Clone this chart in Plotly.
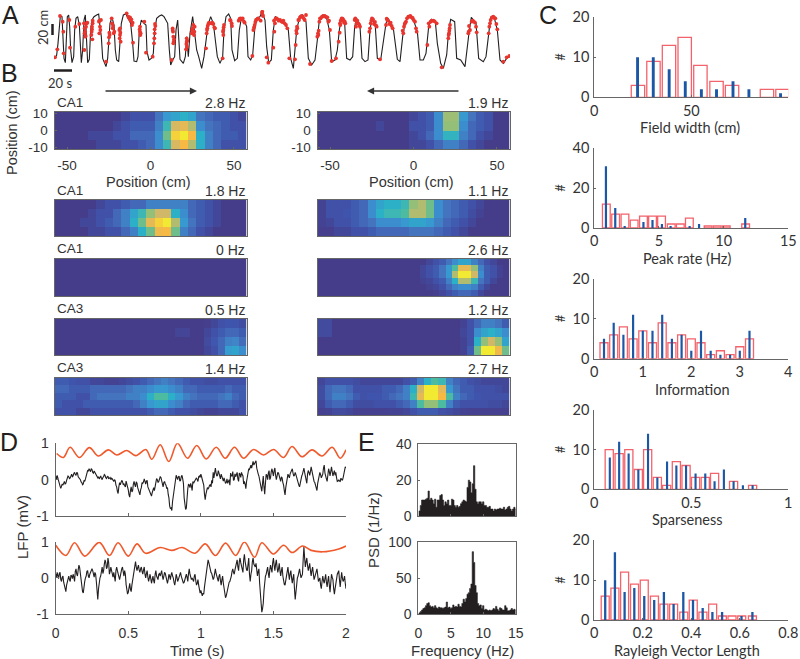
import plotly.graph_objects as go

W, H = 800, 659
BLACK = "#231f20"; GREY = "#666666"; TXT = "#333333"
RED = "#f2636b"; BLUE = "#1c57a5"; ORANGE = "#f0592b"; DOT = "#e8352e"
SANS = "Liberation Sans"; SOFT = "Lato"

# ---------- A: track position (trace samples, arbitrary position units)
track_t = [165,170,174,178,181,186,189,192,196,199,202,206,209,212,216,221,224,228,233,238,241,244,248,252,256,260,263,268,272,276,282,290,296,300,304,308,313,318,323,326,330,336,342,346,350,356,360,364,370,378,384,392,398,402,410,414,418,424,432,438,441,447,454,460,464,470,478,485,492,498,503,508,512,518,524,528,533,540,550,556,560,565,570,578,584,590,596,605,612,618,624,632,640,646,652,660,668,672,678,686,692,696,704,712,718,724,732,740,744,752,758,764,770,780,786,795,800,806,814,820,826,840,855,865,872,880,886,890,898,908,918,925,935,945,952,958,968,980,988,995,1005,1012,1018,1024,1034,1040,1050,1058,1064,1070,1080,1086,1095,1104,1110,1116,1126,1132,1142,1150,1158,1164,1180,1192,1200,1208,1216,1228,1242,1252,1260,1270,1278,1286,1294,1306,1312,1322,1330,1340,1346,1352,1364,1370,1382,1395,1402,1408,1414,1428,1436,1450,1458,1466,1472,1482,1492,1500,1510,1520,1528]
track_zy = [175,165,130,70,48,50,110,175,188,120,50,45,80,150,188,170,90,55,50,75,150,188,150,60,45,120,188,178,90,60,50,45,42,80,110,175,190,200,175,110,70,52,75,150,180,185,140,70,45,42,55,70,130,183,185,170,90,60,70,75,155,180,175,160,90,55,48,45,50,60,70,150,195,180,170,90,60,178,190,170,110,170,100,50,110,150,170,205,170,120,75,50,70,120,170,190,170,90,50,42,55,150,182,175,90,55,60,80,170,180,165,90,55,50,35,60,140,188,180,90,50,60,70,90,175,205,140,90,55,45,65,175,195,180,120,60,45,55,90,185,180,150,90,55,70,175,180,170,80,55,80,175,185,180,90,55,80,175,180,130,70,55,85,178,185,110,65,47,65,95,180,180,160,80,58,65,130,190,205,165,90,58,65,175,180,200,130,90,52,70,175,185,170,100,52,50,90,180,190,175,170]
run_t = [165,172,180,188,190,191,208,210,226,238,252,254,254,256,253,260,275,277,276,278,297,298,300,298,318,326,327,328,335,336,338,341,358,360,362,360,380,385,388,392,396,399,420,420,421,433,438,458,462,463,464,466,515,518,519,520,521,520,560,560,561,575,578,578,580,582,618,620,622,625,634,640,645,668,670,670,672,690,695,718,722,728,732,757,760,764,768,775,782,787,788,820,823,825,830,840,850,858,862,800,805,868,885,887,890,892,895,902,908,914,918,930,952,954,958,962,970,980,985,990,995,1008,1016,1020,1025,1032,1036,1066,1068,1075,1080,1108,1112,1116,1122,1130,1140,1158,1162,1168,1178,1210,1212,1218,1225,1235,1245,1250,1282,1288,1292,1300,1310,1345,1347,1350,1405,1410,1415,1425,1430,1466,1470,1476,1486,1492,1325,1510,1520,1528,
         255,258,262,257,274,276,278,301,303,329,339,343,359,361,390,394,398,419,422,464,465,518,522,558,562,559,576,583,584,621,623,627,637,643,669,671,692,696,716,719,726,734,762,766,771,773,786,789,822,827,833,836,844,847,854,889,891,897,900,905,911,956,955,960,966,974,977,982,987,1019,1021,1022,1028,1030,1034,1064,1070,1072,1078,1110,1114,1119,1125,1128,1160,1164,1172,1175,1208,1214,1216,1221,1228,1231,1238,1241,1248,1286,1295,1304,1346,1348,1349,1406,1407,1418,1421,1428,1468,1472,1480,1483,1489]
run_zy = [172,148,48,65,95,160,60,143,80,72,70,85,100,110,150,70,95,118,80,70,65,100,80,62,185,130,112,98,55,70,85,100,90,105,125,85,40,50,55,62,75,128,80,95,105,65,158,170,130,115,100,78,180,85,95,110,125,130,115,125,140,100,85,100,75,105,145,100,85,72,70,72,85,175,105,90,75,60,70,60,55,55,65,168,90,75,60,55,62,35,45,143,95,70,55,60,62,75,85,172,188,175,178,135,100,85,60,50,50,60,45,192,110,100,65,55,48,52,65,90,183,175,125,70,55,68,70,55,80,70,80,95,70,55,72,80,178,75,60,72,85,100,80,65,50,52,65,95,135,80,65,62,70,115,100,75,100,90,65,68,97,100,70,52,55,88,202,185,172,168,
         95,80,68,108,105,88,62,90,60,105,78,95,115,98,52,58,68,88,100,88,72,90,118,148,122,132,90,95,80,90,78,68,68,82,95,82,62,78,62,56,58,68,82,66,58,56,38,48,62,55,58,62,64,66,70,92,80,60,52,48,55,92,105,55,50,48,50,52,62,98,75,62,56,60,64,60,70,62,75,85,62,58,66,76,56,62,68,78,92,72,68,55,50,48,54,60,85,70,62,64,105,92,85,95,78,62,64,80,80,60,50,54,72]

# ---------- B: rate maps, rows listed from top to bottom (scaled 0-10)
map_a1 = [[0,0,0,0,0,0,0,0,.5,1,1,1,2.5,4,4.5,5,4.5,2.5,2,1.5,1.5,1,.5],
          [0,0,0,0,0,0,0,.5,1,1.5,1.5,1.5,3,5.5,8.2,8.5,7.5,3.5,2.5,2,1.5,1,1],
          [0,0,0,0,.5,.5,.5,1,1,2,2,2,3.5,6.5,9.5,10,9,5,3,2,1.5,1.5,1],
          [0,0,0,0,0,.5,.5,.5,1,1,1.5,2,3.5,5.5,8.2,9,7.5,5,3,2,1,1,1]]
map_b1 = [[0,0,0,0,0,0,0,0,0,0,0,.5,1,1.5,3.5,7.2,7.2,4,2.5,1.5,1,0,0],
          [0,0,0,0,0,0,0,.5,0,0,0,1,1,1.5,3.5,7,7,3.5,2,1.5,1,0,0],
          [0,0,0,0,0,0,0,0,0,0,0,.5,1,2,3.5,5.2,5.2,3,2,1,.5,0,0],
          [0,0,0,0,0,0,0,0,0,0,0,.5,.5,1,2,3,3,2,1,.5,0,0,0]]
map_a2 = [[0,0,0,0,0,.5,1,1,1.5,2,2,3,3,3,3,3,2,1.5,1,.5,0,0,0],
          [0,0,0,0,.5,1,1,2,3,4.5,5.5,7,8,8,5,3.5,2,1.5,1,.5,0,0,0],
          [0,0,0,.5,.5,1,1.5,2,3,5,6.5,8.5,9.5,10,7.5,4,2.5,1.5,1,.5,0,0,0],
          [0,0,0,0,.5,.5,1,1,2,3,5,6.5,8.8,9,6.5,3,2,1,.5,0,0,0,0]]
map_b2 = [[.3,1,1,1,1.5,2,3.5,4.5,5,5,5.5,7,7.5,6.5,3.5,2.5,2,1.5,1,.5,0,0,0],
          [.3,1,1,1.2,1.5,2,3.5,5,5.5,5.5,6,7.5,7.5,6.5,3.5,2.5,2,1.5,.8,.3,0,0,0],
          [.3,.5,1,1,1.5,2,2.5,3.5,3.5,3.5,4,4.5,4.5,4,3,2,1.5,1,.5,0,0,0,0],
          [.1,.1,.5,.5,1,1,1.5,2,2,2,2,2.5,2.5,2.5,2,1.5,1,.5,0,0,0,0,0]]
map_a3 = [[0]*23, [0]*23, [0]*23, [0]*23]
map_b3 = [[0,0,0,0,0,0,0,0,0,0,0,0,0,0,0,0,0,.5,1,1.5,2.5,3.5,4.5,4.5,3,2,1,.5,0,0],
          [0,0,0,0,0,0,0,0,0,0,0,0,0,0,0,0,.5,1,1.5,2.5,4,6,8.5,8.5,7,3,1.5,1,.3,0],
          [0,0,0,0,0,0,0,0,0,0,0,0,0,0,0,0,.5,1,1.5,2.5,4,7.5,10,10,8,3.5,1.5,1,.3,0],
          [0,0,0,0,0,0,0,0,0,0,0,0,0,0,0,0,.3,.5,1,1.5,3,5,7.5,7.5,5.5,2.5,1.5,.5,0,0],
          [0,0,0,0,0,0,0,0,0,0,0,0,0,0,0,0,0,.3,.5,1,2,3,3.5,3.5,3,1.5,.5,0,0,0],
          [0,0,0,0,0,0,0,0,0,0,0,0,0,0,0,0,0,0,.1,.5,1,1.5,2,2,1.5,.5,0,0,0,0]]
map_a4 = [[0,0,0,0,0,0,0,0,0,0,0,0,0,0,0,0,0,0,0,0,0,.1,.5,1,1.2,1.2,.8],
          [0,0,0,0,0,0,0,0,0,0,0,0,0,0,0,0,0,.4,.4,0,0,.5,1,1.5,2,2,1.5],
          [0,0,0,0,0,0,0,0,0,0,0,0,0,0,0,0,0,0,0,0,0,.7,1.3,2,3,3.2,2.2],
          [0,0,0,0,0,0,0,0,0,0,0,0,0,0,0,0,0,0,0,0,0,.5,1,2,4.2,4.5,3.5]]
map_b4 = [[.7,.7,0,0,0,0,0,0,0,0,0,0,0,0,0,0,0,0,0,0,.3,1,2,3,3,2.5,1.5],
          [.7,.7,0,0,0,0,0,0,0,0,0,0,0,0,0,0,0,0,0,0,.5,1,3.5,4.5,5,4.5,3.5],
          [0,0,0,0,0,0,0,0,0,0,0,0,0,0,0,0,0,0,0,0,.3,1,5,7,8,7,4.5],
          [0,0,0,0,0,0,0,0,0,0,0,0,0,0,0,0,0,0,0,0,.3,1.5,6.5,10,10,8.8,6.5]]
map_a5 = [[1.5,1.5,1.2,1,1,.5,.5,.3,.3,.5,.8,1,1.5,2,2.5,3,2.5,2,1.5,1,1,.8,.8,1,1,1,1],
          [2,2,1.5,1.5,1.5,2,2,2,2,2,2.5,3,3,3.5,4,4,3.5,3,2,2,1.5,1.5,1.5,1.5,2,1.5,1.5],
          [1.5,1.5,1.5,1,1,2,2.5,2.5,2.5,2.5,3,3,3.5,5,6,6,5,4,3,2.5,2,2,2,2.5,3,2,1.5],
          [1.5,1,1,1,1.5,1.5,1.5,1.5,1.5,1.5,1.5,2,3,4,4.5,4.5,3.5,3,2,1.5,1.5,1.5,1.5,2,2,1.5,1],
          [1,1,1,.5,.5,1,1,1,1,1,1,1,1,1.5,2,2,1.5,1,1,.8,.5,.3,.3,.5,.5,.5,1]]
map_b5 = [[.5,1,1,1,1,.8,.5,.5,.5,.5,.5,.5,1,1.5,3,5,6,5.5,3,2,1.5,1,.8,.5,.5,.5,.5],
          [.8,2,2.5,2.5,2,1,1,1,1,1.5,1.5,2,3,5,8,10,10,8.5,4,2.5,1.5,1.5,1,1,1,.8,.5],
          [.8,2,3,3,2.5,1.5,1,1.2,1.2,1.5,2,2.5,3,5.5,8.5,10,10,9,6,3,2,1.5,1.2,1,1,1,1],
          [.5,1.5,2,2,1.5,.8,.8,.8,1,1,1,1.5,2,3,6,7,7,6,3,1.5,1,1,1,1,.8,.8,.5],
          [.2,.3,.7,.7,.5,.2,.2,.2,.2,.2,.3,.3,.5,1,1.5,1.5,1.5,1,.8,.5,.3,.2,.2,.2,.2,.2,.2]]
left_maps = [map_a1, map_a2, map_a3, map_a4, map_a5]
right_maps = [map_b1, map_b2, map_b3, map_b4, map_b5]
left_rates = ["2.8 Hz", "1.8 Hz", "0 Hz", "0.5 Hz", "1.4 Hz"]
right_rates = ["1.9 Hz", "1.1 Hz", "2.6 Hz", "1.2 Hz", "2.7 Hz"]
left_regions = ["CA1", "CA1", "CA1", "CA3", "CA3"]
parula = [[0,"#463d8a"],[.12,"#3f55ad"],[.25,"#4474bd"],[.38,"#3a94d2"],[.5,"#2cb0c8"],[.6,"#4dbb9f"],
          [.7,"#93bf78"],[.8,"#d0b868"],[.9,"#f7b944"],[1,"#f2e933"]]

# ---------- C: histograms (bin centre, count)
width_red_x = [22.5,30.5,38.5,46.6,54.7,63,71,89,97]
width_red_n = [3,9,13,15,8,4,3,2,2]
width_blue_x = [22.3,30.4,38.6,46.9,55.2,63,71.5,79.7,96]
width_blue_n = [10,10,7,4,2,2,4,2,1]
rate_red_x = [.93,1.65,2.37,3.08,3.8,4.5,5.2,5.95,6.65,7.35,8.8,9.5,10.2,11.7]
rate_red_n = [12,7,7,4,6,6,6,2,2,5,1,1,1,2]
rate_blue_x = [.9,1.62,2.35,3.8,4.5,5.23,5.9,7.37,8.1,11.67]
rate_blue_n = [31,10,1,3,4,2,1,1,2,5]
info_x = [.2,.4,.6,.8,1,1.2,1.4,1.6,1.8,2,2.2,2.4,2.6,2.8,3,3.2]
info_red_n = [4,6,8,5,7,4,9,4,6,5,4,1,2,1,3,5]
info_blue_n = [5,9,6,11,7,7,11,5,6,2,7,2,1,1,2,7]
sparse_red_x = [.077,.128,.178,.227,.275,.325,.373,.423,.473,.522,.572,.62,.718,.816]
sparse_red_n = [10,9,10,5,10,3,1,7,6,3,3,4,2,1]
sparse_blue_x = [.08,.128,.177,.227,.277,.325,.375,.423,.473,.522,.572,.62,.668,.718,.766,.816]
sparse_blue_n = [8,12,9,5,14,3,7,6,6,4,4,2,5,2,1,1]
ray_red_x = [.045,.085,.125,.166,.206,.248,.287,.327,.369,.408,.448,.488,.528,.568,.608,.652]
ray_red_n = [6,8,12,9,10,6,4,4,2,5,2,4,1,1,1,1]
ray_blue_x = [.045,.085,.125,.165,.206,.247,.287,.327,.367,.407,.447,.487,.527,.607,.652]
ray_blue_n = [10,17,7,8,6,5,7,4,7,5,3,2,2,1,2]

# ---------- D: LFP
theta1_t = [.007,.053,.099,.163,.232,.294,.363,.421,.49,.552,.621,.662,.72,.779,.839,.908,.972,1.037,1.106,1.168,1.232,1.294,1.363,1.432,1.501,1.57,1.628,1.697,1.766,1.834,1.905,1.96,2.0]
theta1_v = [.72,.61,.89,.61,.88,.65,.82,.68,.8,.66,.83,.56,.96,.5,1.0,.59,.94,.57,.89,.59,.89,.59,.83,.68,.83,.61,.91,.63,.82,.65,.89,.59,.82]
theta2_t = [.0,.07,.13,.2,.3,.37,.43,.5,.56,.62,.72,.8,.87,.96,1.03,1.1,1.17,1.24,1.3,1.37,1.42,1.5,1.57,1.63,1.7,1.76,1.84,1.95,2.0]
theta2_v = [.9,.62,.97,.6,.98,.62,.97,.6,.94,.68,.84,.76,.84,.68,.94,.62,.96,.62,.99,.57,.97,.66,.9,.7,.88,.76,.72,.8,.88]
lfp1 = [.1,.12,-.05,-.18,-.2,-.15,-.05,-.1,.02,.08,.05,.15,.1,.2,.12,.18,.05,.0,-.08,-.12,-.05,.1,.25,.3,.22,.28,.18,.2,.12,.05,
        .02,.1,.0,.08,.12,.03,.1,.04,.0,.02,-.05,-.03,-.2,-.38,-.08,-.1,-.05,-.12,-.2,-.1,-.28,-.48,-.2,-.3,-.05,-.2,-.1,-.28,-.42,-.22,
        -.1,.02,-.12,-.02,-.25,-.38,-.45,-.3,-.3,-.1,.0,-.05,.08,-.02,-.2,-.05,-.15,-.22,-.5,-.8,-.85,-.45,-.2,.12,.0,.1,-.02,.12,-.1,-.72,
        -.78,-.25,-.15,-.1,-.3,-.1,-.02,.05,-.05,.1,.15,.02,-.15,-.55,-.3,-.25,-.15,-.2,-.1,.05,.32,.1,.25,.05,.15,.0,.05,-.1,.02,-.05,
        -.15,.1,.22,.0,.08,.2,-.05,.15,.2,.1,-.05,-.25,.05,.3,.38,.32,.5,.45,.52,.2,.1,-.05,-.32,.1,-.4,.15,.0,.25,.05,.3,
        .1,.32,.0,.2,.1,-.05,.05,-.15,-.42,-.1,.15,.05,.22,.3,.1,.2,.05,-.1,-.2,.05,.15,.32,.05,-.1,.25,.12,.35,.1,-.05,-.15,
        -.3,.05,.2,.05,.15,.4,.05,-.05,.3,.1,.35,.1,.25,.2,-.05,.0,-.05,.0,.05,.3,.32]
lfp1_between = [.0,.02,-.12,-.24,-.12,-.08,-.12,-.02,.1,.03,.12,.08,.17,.14,.2,.08,.04,-.06,-.14,-.02,
        .02,.2,.24,.26,.3,.2,.24,.14,.1,.08,.06,.04,.06,.14,.05,.08,.02,.06,.04,-.02,
        .0,-.15,-.32,-.2,-.14,-.02,-.14,-.16,-.04,-.2,-.42,-.3,-.34,-.12,-.14,-.06,-.22,-.4,-.28,-.08,
        -.06,-.05,-.04,-.2,-.34,-.4,-.36,-.22,-.16,.03,-.08,.04,.06,-.14,-.08,-.12,-.25,-.4,-.72,-.78,
        -.6,-.25,.05,.06,.08,-.04,.08,.02,-.5,-.82,-.35,-.12,-.22,-.18,-.05,-.06,.02,.0,.08,.06,
        .08,-.08,-.4,-.4,-.22,-.22,-.14,-.02,.2,.25,.18,.12,.18,.02,.08,-.04,-.02,-.08,-.1,.0,
        .18,.1,-.02,.16,.14,.02,.18,.06,.14,-.12,-.12,-.05,.22,.28,.4,.42,.4,.5,.32,.16,
        .0,-.2,-.1,-.2,-.1,.12,.18,.0,.22,.2,.25,.12,.1,.18,.0,.08,-.08,-.3,-.22,.08,
        .1,.16,.3,.18,.12,.14,-.05,-.15,-.08,.1,.25,.2,-.04,.15,.2,.22,.25,-.02,-.08,-.25,
        -.1,.12,.14,.1,.32,.18,.02,.18,.22,.22,.22,.18,.12,.05,-.04,-.04,.04,-.02,.2,.35]
lfp2 = [.1,.15,-.02,.15,-.1,.05,-.2,-.38,-.1,.05,-.1,.05,.1,-.1,.25,.05,.35,.1,-.25,-.42,-.1,.05,.2,.0,.15,.25,.05,.15,-.1,-.6,
        -.1,.05,.3,.2,.5,.25,.55,.1,.3,.05,.15,-.1,.3,.1,-.05,.2,.3,.05,.1,-.35,-.4,-.15,-.38,-.05,.1,.45,.2,.35,.15,.3,
        .1,.3,.0,.2,-.1,.1,-.15,.05,-.15,.2,.0,.1,.05,.2,-.05,.15,.05,-.15,.1,-.05,.15,.0,-.2,.1,-.1,.05,.15,.0,-.15,-.05,
        .1,-.1,.25,.05,.0,-.1,.1,-.2,-.05,-.3,-.35,-.5,-.45,-.1,.1,.5,.3,.15,.05,.0,.25,.05,-.1,.1,-.2,.05,-.3,-.55,-.4,-.2,
        -.1,.05,.25,.1,.3,.5,.2,.55,.35,.15,.65,.3,.2,.55,-.1,.2,.55,.3,.4,.05,.25,-.4,-.95,-.7,-.1,.1,.3,.0,.35,.15,
        .55,.2,.5,.15,.4,.05,.3,-.1,-.2,.1,.3,-.05,.2,-.15,.1,-.6,-.1,.05,.25,.0,.1,.85,.3,.55,.2,.4,.05,.3,-.05,.1,
        .25,-.1,.0,-.3,.05,-.15,.1,-.25,.05,-.4,.1,-.05,-.45,-.1,.1,.2,-.25,.15,-.1,.05,-.3]
lfp2_between = [.0,.05,.12,-.05,.02,-.12,-.32,-.2,-.02,-.05,.08,-.02,.02,.18,.1,.22,.28,-.1,-.38,-.2,
        .0,.18,.05,.1,.18,.2,.02,.1,-.45,-.3,.0,.25,.12,.38,.42,.3,.42,.18,.2,.02,
        .05,.2,.2,.02,.05,.25,.12,.2,-.18,-.45,-.2,-.32,-.2,.08,.3,.3,.28,.22,.25,.18,
        .22,.1,.12,.02,.0,-.02,-.05,-.08,.1,.05,-.05,.12,.15,.05,.05,.12,-.08,-.05,.05,.08,
        .05,-.12,-.08,.02,-.05,.12,.05,-.08,-.12,.05,.02,.12,.1,-.05,-.08,.05,-.08,-.15,-.2,-.42,
        -.45,-.42,-.25,.05,.35,.42,.2,.12,-.05,.15,.12,-.05,.05,-.08,-.05,-.15,-.48,-.5,-.28,-.12,
        -.05,.18,.15,.22,.42,.3,.45,.42,.25,.5,.45,.22,.45,.1,.1,.45,.38,.3,.2,.18,
        -.15,-.75,-.85,-.35,.05,.22,.12,.22,.25,.42,.35,.38,.3,.25,.2,.2,.05,-.18,-.05,.2,
        .1,.12,.0,.0,-.3,-.4,.0,.15,.12,.05,.5,.55,.45,.35,.3,.2,.2,.12,.02,.18,
        .08,-.05,-.2,-.1,-.08,-.02,-.12,-.08,-.2,-.15,.02,-.3,-.3,.0,.15,-.05,-.05,.0,-.05,-.15]

def weave(coarse, between):
    out = []
    for i, v in enumerate(coarse):
        out.append(v)
        if i < len(between):
            out.append(between[i])
    return out

lfp1_all = weave(lfp1, lfp1_between)
lfp2_all = weave(lfp2, lfp2_between)
lfp_t = [i * 0.005 for i in range(len(lfp1_all))]

# ---------- E: power spectra
psd_f = [i * 0.2 for i in range(76)]
psd1 = [0,3,6,9,9,9,9.5,10,14,9,10,9,7,9.5,5,9,9,11.5,12,9,6,8,7,9,6,6,9.5,9,6,5,6,5,5.5,7,8,9,8.5,8,16,20,19,13,18,28,15,8,7,8,8,7,8,6,6,5,5,5.5,4,4,3,4,3.5,4,4,4.5,4,4,5,3.5,4,5,5.5,4,3,4,5,4]
psd2 = [0,2,4,6,8,9,12,15,16,12,10,11,9,12,9,8,10,9,9,8,9,10,17,9,10,8,9,13,10,11,10,14,11,10,15,21,17,22,28,30,36,42,87,72,40,30,15,12,13,8,12,6,7,6,5,6,5,6,8,7,11,7,5,9,8,6,6,12,9,5,5,6,8,6,7,6]

fig = go.Figure()
layout = {}
n_ax = [0]

def px(x): return x / W
def py(y): return 1 - y / H

def axes(x0, x1, y0, y1, xopt, yopt):
    n_ax[0] += 1
    k = n_ax[0]
    sx = "" if k == 1 else str(k)
    base = dict(showgrid=False, zeroline=False, fixedrange=True, automargin=False)
    xa = dict(base, domain=[px(x0), px(x1)], anchor="y" + sx, **xopt)
    ya = dict(base, domain=[py(y1), py(y0)], anchor="x" + sx, **yopt)
    layout["xaxis" + sx] = xa
    layout["yaxis" + sx] = ya
    return "x" + sx, "y" + sx

def label(text, x, y, size=14, angle=0, anchor="center", family=SANS, color=TXT):
    return dict(text=text, x=px(x), y=py(y), xref="paper", yref="paper", showarrow=False,
                font=dict(family=family, size=size, color=color), textangle=angle,
                xanchor=anchor, yanchor="middle")

ann = []
shapes = []

# --- panel A
xa, ya = axes(54, 510, 10, 70, dict(visible=False, range=[162, 1530]), dict(visible=False, range=[-5, 175]))
fig.add_trace(go.Scatter(x=track_t, y=[205 - v for v in track_zy], mode="lines", xaxis=xa, yaxis=ya,
                         line=dict(color=BLACK, width=1.1)))
fig.add_trace(go.Scatter(x=run_t, y=[205 - v for v in run_zy], mode="markers", xaxis=xa, yaxis=ya,
                         marker=dict(color=DOT, size=3.8)))

# --- panel B
rows = [(112, 149), (200, 236), (258.5, 296), (319, 355), (377.5, 415)]
columns = [(54.5, 246.5, left_maps, left_rates), (317.5, 509.5, right_maps, right_rates)]
frame = dict(showline=True, linecolor=GREY, linewidth=1, mirror=True)
for cidx, (x0, x1, maps, rates) in enumerate(columns):
    for ridx, (y0, y1) in enumerate(rows):
        if ridx == 0:
            xo = dict(frame, range=[-57.5, 57.5], tickvals=[-50, 0, 50], ticktext=["-50", "0", "50"],
                      ticks="inside", ticklen=2, tickcolor=GREY, ticklabelstandoff=4,
                      tickfont=dict(family=SANS, size=13.5, color=TXT))
            yo = dict(frame, range=[-11, 11], tickvals=[-10, 0, 10], ticktext=["-10", "0", "10"],
                      ticks="inside", ticklen=2, tickcolor=GREY, ticklabelstandoff=3,
                      tickfont=dict(family=SANS, size=13.5, color=TXT))
        else:
            xo = dict(frame, range=[-57.5, 57.5], showticklabels=False, ticks="")
            yo = dict(frame, range=[-11, 11], showticklabels=False, ticks="")
        xa, ya = axes(x0, x1, y0, y1, xo, yo)
        z = maps[ridx]
        nr, nc = len(z), len(z[0])
        cw, rh = 115 / nc, 22 / nr
        fig.add_trace(go.Heatmap(z=z, x=[-57.5 + cw * (i + .5) for i in range(nc)],
                                 y=[11 - rh * (i + .5) for i in range(nr)],
                                 xaxis=xa, yaxis=ya, colorscale=parula, zmin=0, zmax=10,
                                 showscale=False, hoverinfo="skip"))
        ann.append(label(rates[ridx], x1, y0 - 9, 14, anchor="right"))
        if cidx == 0:
            ann.append(label(left_regions[ridx], 55, y0 - 10, 13.5, anchor="left"))
    ann.append(label("Position (cm)", (x0 + x1) / 2 - 2, 182, 14.5))
ann.append(label("Position (cm)", 12, 133, 14.5, angle=-90))

# --- panel C
c_panels = [
    (17.3, 97.3, [0, 100], [0, 50, 100], [0, 20], [0, 10, 20], width_red_x, width_red_n, width_blue_x, width_blue_n, 6.9, 1.5, "Field width (cm)", 690, 127.5),
    (148.3, 228, [0, 15], [0, 5, 10, 15], [0, 40], [0, 20, 40], rate_red_x, rate_red_n, rate_blue_x, rate_blue_n, .6, .17, "Peak rate (Hz)", 687, 258),
    (279, 358.7, [0, 4], [0, 1, 2, 3, 4], [0, 20], [0, 10, 20], info_x, info_red_n, info_x, info_blue_n, .165, .045, "Information", 692, 389),
    (410, 489.3, [0, 1], [0, .5, 1], [0, 20], [0, 10, 20], sparse_red_x, sparse_red_n, sparse_blue_x, sparse_blue_n, .042, .011, "Sparseness", 687, 519.5),
    (540.3, 620, [0, .8], [0, .2, .4, .6, .8], [0, 20], [0, 10, 20], ray_red_x, ray_red_n, ray_blue_x, ray_blue_n, .033, .0095, "Rayleigh Vector Length", 687, 650),
]
for y0, y1, xr, xt, yr, yt, rx, rn, bx, bn, rw, bw, title, tx, ty in c_panels:
    tf = dict(family=SOFT, size=14.5, color=TXT)
    xa, ya = axes(594.3, 788.3, y0, y1,
                  dict(range=xr, tickvals=xt, ticktext=[str(v) for v in xt], showline=True, linecolor=GREY, linewidth=1,
                       ticks="inside", ticklen=2, tickcolor=GREY, ticklabelstandoff=0, tickfont=tf),
                  dict(range=yr, tickvals=yt, ticktext=[str(v) for v in yt], showline=True, linecolor=GREY, linewidth=1,
                       ticks="inside", ticklen=2, tickcolor=GREY, ticklabelstandoff=1, tickfont=tf))
    fig.add_trace(go.Bar(x=rx, y=rn, width=rw, xaxis=xa, yaxis=ya,
                         marker=dict(color="rgba(255,255,255,0)", line=dict(color=RED, width=1.3))))
    fig.add_trace(go.Bar(x=bx, y=bn, width=bw, xaxis=xa, yaxis=ya, marker=dict(color=BLUE, line=dict(width=0))))
    ann.append(label(title, tx, ty, 14.5, family=SOFT))
    ann.append(label("#", 560, (y0 + y1) / 2 - 0.5, 13, angle=-90, family=SOFT))

# --- panel D
d_panels = [(443.3, 516, theta1_t, theta1_v, lfp1_all, False), (541.7, 614, theta2_t, theta2_v, lfp2_all, True)]
for y0, y1, tt, tv, lv, show in d_panels:
    tf = dict(family=SANS, size=14, color=TXT)
    xa, ya = axes(55.7, 346, y0, y1,
                  dict(range=[0, 2], tickvals=[0, .5, 1, 1.5, 2], ticktext=["0", "0.5", "1", "1.5", "2"],
                       showticklabels=show, showline=True, linecolor=GREY, linewidth=1,
                       ticks="inside", ticklen=3, tickcolor=GREY, ticklabelstandoff=6, tickfont=tf),
                  dict(range=[-1, 1], tickvals=[-1, 0, 1], ticktext=["-1", "0", "1"], showline=True, linecolor=GREY, linewidth=1,
                       ticks="inside", ticklen=3, tickcolor=GREY, ticklabelstandoff=3, tickfont=tf))
    fig.add_trace(go.Scatter(x=lfp_t, y=lv, mode="lines", xaxis=xa, yaxis=ya, line=dict(color=BLACK, width=1.1)))
    fig.add_trace(go.Scatter(x=tt, y=tv, mode="lines", xaxis=xa, yaxis=ya, line=dict(color=ORANGE, width=1.6, shape="spline")))
ann.append(label("LFP (mV)", 22, 527, 15, angle=-90))
ann.append(label("Time (s)", 197, 650, 15))

# --- panel E
e_panels = [(444, 516.3, psd1, [0, 40], [0, 20, 40], False), (542.3, 614.3, psd2, [0, 100], [0, 50, 100], True)]
for y0, y1, pv, yr, yt, show in e_panels:
    tf = dict(family=SANS, size=14, color=TXT)
    xa, ya = axes(418.3, 515.7, y0, y1,
                  dict(frame, range=[0, 15], tickvals=[0, 5, 10, 15], ticktext=["0", "5", "10", "15"], showticklabels=show,
                       ticks="inside", ticklen=2, tickcolor=GREY, ticklabelstandoff=6, tickfont=tf),
                  dict(frame, range=yr, tickvals=yt, ticktext=[str(v) for v in yt],
                       ticks="inside", ticklen=2, tickcolor=GREY, ticklabelstandoff=3, tickfont=tf))
    fig.add_trace(go.Scatter(x=psd_f, y=pv, mode="lines", xaxis=xa, yaxis=ya, fill="tozeroy",
                             fillcolor=BLACK, line=dict(color=BLACK, width=.6, shape="hvh")))
ann.append(label("PSD (1/Hz)", 373, 530, 15, angle=-90))
ann.append(label("Frequency (Hz)", 462, 650, 15))

# --- letters, scale bars, arrows
for letter, lx, ly in [("A", 10, 15), ("B", 9, 73), ("C", 548, 15), ("D", 9, 442), ("E", 366, 442)]:
    ann.append(label(letter, lx, ly, 25, family=SANS, color=BLACK))
ann.append(label("20 cm", 43, 28, 13, angle=-90, family=SOFT))
ann.append(label("20 s", 60, 83, 13, family=SOFT))
shapes.append(dict(type="line", xref="paper", yref="paper", x0=px(52.5), x1=px(52.5), y0=py(24), y1=py(35), line=dict(color=BLACK, width=2.5)))
shapes.append(dict(type="line", xref="paper", yref="paper", x0=px(54), x1=px(72), y0=py(70.5), y1=py(70.5), line=dict(color=BLACK, width=2.5)))
for tip, tail in [(197, 104), (367, 460)]:
    ann.append(dict(x=px(tip), y=py(91), xref="paper", yref="paper", ax=tail - tip, ay=0, axref="pixel", ayref="pixel",
                    text="", showarrow=True, arrowhead=2, arrowsize=1.1, arrowwidth=1.3, arrowcolor="#333333"))

fig.update_layout(**layout)
fig.update_layout(width=W, height=H, margin=dict(l=0, r=0, t=0, b=0, pad=0), showlegend=False,
                  barmode="overlay", plot_bgcolor="white", paper_bgcolor="white",
                  annotations=ann, shapes=shapes, hovermode=False)
fig.write_html("out.html", config=dict(displayModeBar=False),
               post_script="document.body.style.margin='0';")
